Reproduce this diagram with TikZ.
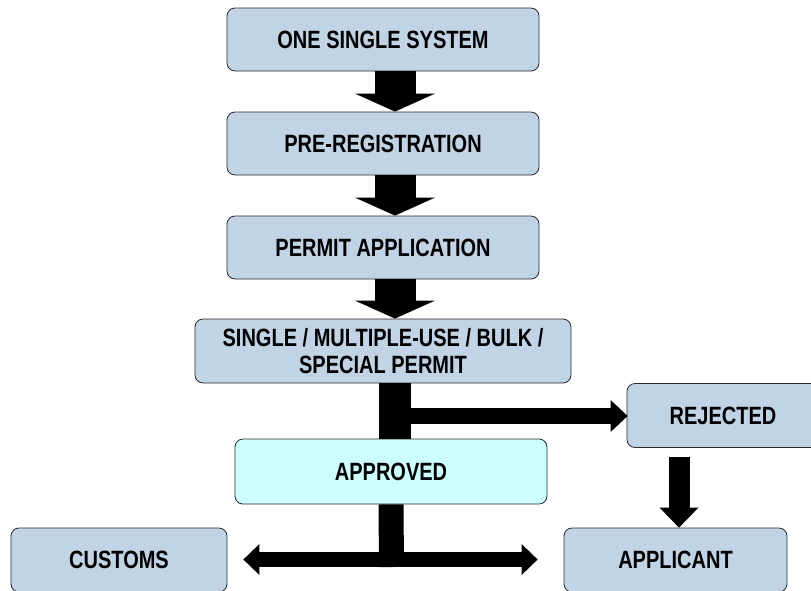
\documentclass[tikz,border=0pt]{standalone}
\usepackage{fontspec}
\setmainfont{Liberation Sans}[FakeStretch=0.8]
\usepackage{xcolor}
\usepackage{tikz}
\usetikzlibrary{arrows.meta, positioning, calc}
\definecolor{StepBlue}    {RGB}{193, 212, 229}
\definecolor{ApproveCyan} {RGB}{204, 255, 255}
\definecolor{EdgeGray}    {RGB}{ 40,  40,  40}

\begin{document}
\begin{tikzpicture}[
    x=1pt, y=-1pt,
    stage/.style={draw=EdgeGray, fill=StepBlue, line width=0.8pt, rounded corners=8pt, align=center, minimum width=312pt, minimum height=63pt, inner sep=0pt, font=\fontsize{25}{27}\selectfont\bfseries},
    okbox/.style={stage, fill=ApproveCyan},
    bigarrow/.style={line width=41pt, -{Triangle[length=18pt, width=80pt, line width=0pt]}},
    sidearrow/.style={line width=16pt, -{Triangle[length=17pt, width=32pt, line width=0pt]}},
    downarrow/.style={line width=21pt, -{Triangle[length=20pt, width=39pt, line width=0pt]}},
    splitbar/.style={line width=15pt, {Triangle[length=16pt, width=31pt, line width=0pt]}-{Triangle[length=16pt, width=31pt, line width=0pt]}}
]
    \useasboundingbox (0,0) rectangle (811,590);
    \clip (0,0) rectangle (811,590);

    % Nodes
    \node[stage] (system) at (383,39.5) {ONE SINGLE SYSTEM};
    \node[stage] (prereg) at (383,143.5) {PRE-REGISTRATION};
    \node[stage] (permit) at (383,247.5) {PERMIT APPLICATION};
    \node[stage, minimum width=376pt, minimum height=64pt] (kind) at (383,351) {SINGLE / MULTIPLE-USE / BULK /\\SPECIAL PERMIT};
    \node[okbox, minimum height=65pt] (approved) at (391,471.5) {APPROVED};
    \node[stage, minimum width=192pt, minimum height=64pt] (rejected) at (723,415.5) {REJECTED};
    \node[stage, minimum width=216pt, minimum height=64pt] (customs) at (119,560) {CUSTOMS};
    \node[stage, minimum width=223pt, minimum height=64pt] (applicant) at (675.5,560) {APPLICANT};

    % Main column
    \draw[bigarrow] ([xshift=12pt]system.south) -- ([xshift=12pt]prereg.north);
    \draw[bigarrow] ([xshift=12pt]prereg.south) -- ([xshift=12pt]permit.north);
    \draw[bigarrow] ([xshift=12pt]permit.south) -- ([xshift=12pt]kind.north);

    % Decision
    \coordinate (fork) at (395,416);
    \draw[line width=32pt] ([xshift=12pt]kind.south) -- ([xshift=12pt]kind.south |- approved.north);
    \draw[sidearrow] (fork) -- ([xshift=1pt]fork -| rejected.west);
    \draw[downarrow] ([xshift=3.5pt,yshift=-9pt]rejected.south -| applicant.north) -- ([xshift=3.5pt]applicant.north);

    % Approved goes both ways
    \coordinate (split) at (391.5,559.5);
    \coordinate (toCustoms) at ([xshift=16pt]customs.east);
    \coordinate (toApplicant) at ([xshift=-26pt]applicant.west);
    \draw[line width=25pt] (approved.south) -- ([yshift=-7.5pt]split);
    \draw[splitbar] (toCustoms |- split) -- (toApplicant |- split);

\end{tikzpicture}
\end{document}
